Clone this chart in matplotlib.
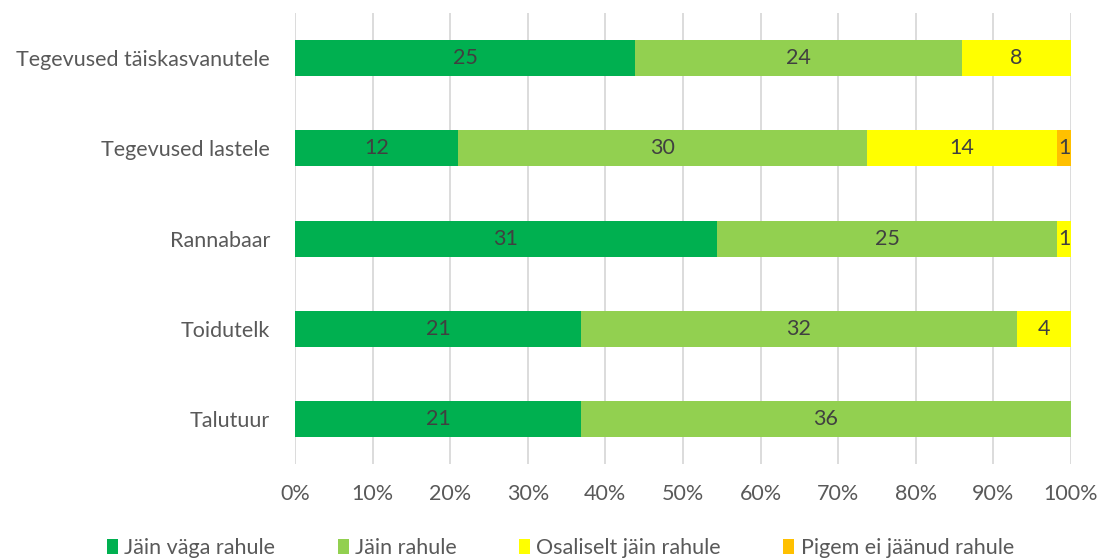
import matplotlib.pyplot as plt
import numpy as np

plt.rcParams['font.family'] = ['Lato', 'DejaVu Sans']

# Categories (top to bottom as shown)
categories = ["Tegevused täiskasvanutele", "Tegevused lastele", "Rannabaar",
              "Toidutelk", "Talutuur"]
series_names = ["Jäin väga rahule", "Jäin rahule", "Osaliselt jäin rahule",
                "Pigem ei jäänud rahule"]
vaga_rahule = [25, 12, 31, 21, 21]
rahule = [24, 30, 25, 32, 36]
osaliselt = [8, 14, 1, 4, 0]
pigem_ei = [0, 1, 0, 0, 0]
colors = ["#00B050", "#92D050", "#FFFF00", "#FFC000"]

data = np.array([vaga_rahule, rahule, osaliselt, pigem_ei], dtype=float)
totals = data.sum(axis=0)
shares = data / totals

fig = plt.figure(figsize=(10.99, 5.6), dpi=100)
ax = fig.add_axes([0.2684, 0.171, 0.7061, 0.806])

y = np.arange(len(categories))
left = np.zeros(len(categories))
for name, vals, share, col in zip(series_names, data, shares, colors):
    ax.barh(y, share, left=left, height=0.4, color=col, label=name, zorder=2)
    for yi, v, s, l in zip(y, vals, share, left):
        if v > 0:
            ax.text(l + s / 2, yi, f"{int(v)}", ha='center', va='center',
                    fontsize=15.5, color='#404040', zorder=3)
    left += share

ax.set_xlim(0, 1)
ax.set_ylim(len(categories) - 0.5, -0.5)
ax.set_yticks(y)
ax.set_yticklabels(categories, fontsize=15.5, color='#595959')
ax.set_xticks(np.linspace(0, 1, 11))
ax.set_xticklabels([f"{i}%" for i in range(0, 101, 10)], fontsize=15.5, color='#595959')
ax.tick_params(axis='both', length=0)
ax.tick_params(axis='x', pad=14)
ax.tick_params(axis='y', pad=18)
ax.grid(axis='x', color='#D9D9D9', linewidth=1.3, zorder=0)
for s in ax.spines.values():
    s.set_visible(False)

fig.legend(loc='center', bbox_to_anchor=(0.51, 0.021), ncol=4, frameon=False,
           fontsize=15.5, handlelength=0.5, handleheight=0.7, handletextpad=0.3,
           columnspacing=2.9, labelcolor='#595959')

fig.savefig("out.png", dpi=100)
